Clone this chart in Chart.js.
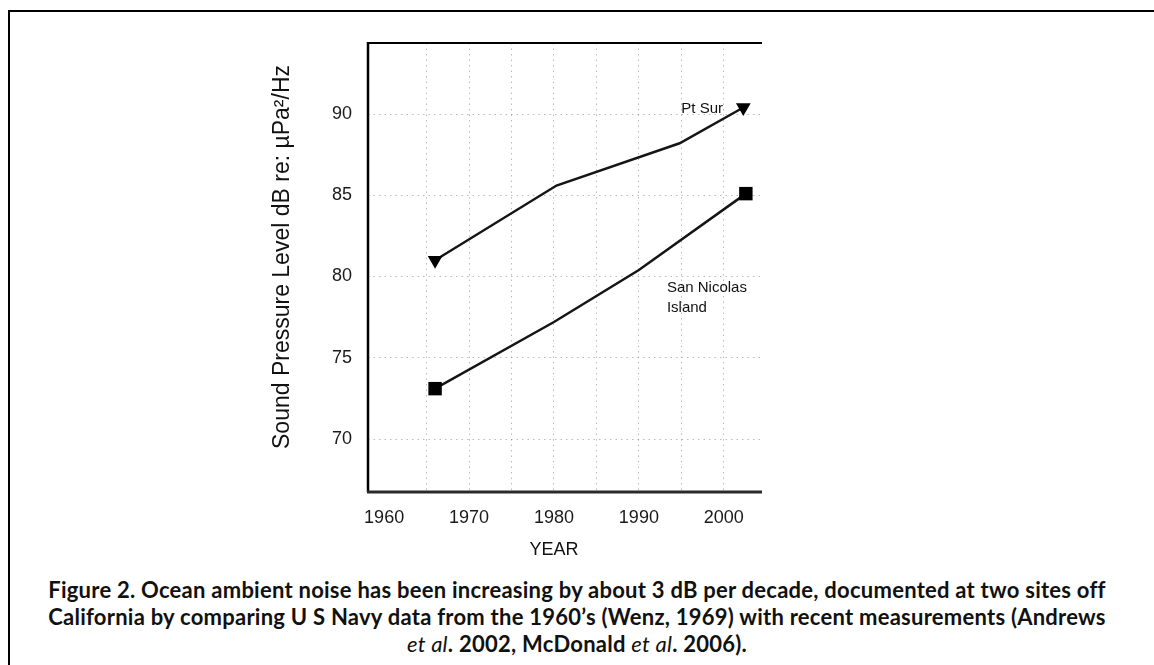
<!DOCTYPE html>
<html>
<head>
<meta charset="utf-8">
<script src="https://cdn.jsdelivr.net/npm/chart.js@4.4.1/dist/chart.umd.min.js"></script>
<style>
  html, body { margin: 0; padding: 0; background: #fff; width: 1154px; height: 665px; overflow: hidden; }
  #frame { position: absolute; left: 8px; top: 10px; width: 1200px; height: 700px; border-top: 2px solid #000; border-left: 2px solid #000; }
  #wrap { position: absolute; left: 0; top: 0; width: 1154px; height: 565px; }
  #caption { position: absolute; left: 0; top: 576px; width: 1154px; text-align: center;
    font-family: Lato, "Open Sans", sans-serif; font-weight: bold; font-size: 22px; letter-spacing: 0.25px;
    line-height: 27px; color: #111; }
  #caption i { font-weight: normal; }
</style>
</head>
<body>
<div id="frame"></div>
<div id="wrap"><canvas id="chart" width="1154" height="565"></canvas></div>
<div id="caption">Figure 2. Ocean ambient noise has been increasing by about 3 dB per decade, documented at two sites off<br>California by comparing U S Navy data from the 1960’s (Wenz, 1969) with recent measurements (Andrews<br><i>et al</i>. 2002, McDonald <i>et al</i>. 2006).</div>
<script>
const ctx = document.getElementById('chart').getContext('2d');

// data
const ptSurYears = [1966, 1980.3, 1994.8, 2002.3];
const ptSurLevels = [81.0, 85.6, 88.2, 90.4];
const sanNicYears = [1966, 1980, 1990, 2002.6];
const sanNicLevels = [73.1, 77.2, 80.4, 85.1];

// axes
const xGridYears = [1960, 1965, 1970, 1975, 1980, 1985, 1990, 1995, 2000];
const xLabelYears = [1960, 1970, 1980, 1990, 2000];
const yTicks = [70, 75, 80, 85, 90];
const xTitle = 'YEAR';
const yTitle = 'Sound Pressure Level dB re: µPa²/Hz';

// text labels inside the plot
const notes = [
  { text: 'Pt Sur', x: 1995.0, y: 90.06 },
  { text: 'San Nicolas', x: 1993.3, y: 79.05 },
  { text: 'Island', x: 1993.3, y: 77.8 }
];

const gridColor = 'rgba(120,120,120,0.5)';
const font = '"Liberation Sans", Arial, sans-serif';
const tickFont = { family: '"Liberation Sans", Arial, sans-serif', size: 18 };

const toPoints = (xs, ys) => xs.map((x, i) => ({ x, y: ys[i] }));
const endRadius = (n, r) => Array.from({ length: n }, (_, i) => (i === 0 || i === n - 1) ? r : 0);

const framePlugin = {
  id: 'frame',
  beforeDatasetsDraw(chart) {
    const { ctx, chartArea: a } = chart;
    ctx.save();
    ctx.strokeStyle = '#000';
    ctx.lineWidth = 2;
    ctx.beginPath(); ctx.moveTo(a.left, a.top); ctx.lineTo(a.right, a.top); ctx.stroke();
    ctx.lineWidth = 2.5;
    ctx.beginPath(); ctx.moveTo(a.left, a.top - 1); ctx.lineTo(a.left, a.bottom); ctx.stroke();
    ctx.strokeStyle = '#2a2a2a';
    ctx.lineWidth = 3;
    ctx.beginPath(); ctx.moveTo(a.left - 1, a.bottom); ctx.lineTo(a.right, a.bottom); ctx.stroke();
    ctx.restore();
  },
  afterDraw(chart) {
    const { ctx, scales: { x, y } } = chart;
    ctx.save();
    ctx.fillStyle = '#111';
    ctx.font = '15px ' + font;
    ctx.textAlign = 'left';
    ctx.textBaseline = 'alphabetic';
    notes.forEach(n => ctx.fillText(n.text, x.getPixelForValue(n.x), y.getPixelForValue(n.y)));
    ctx.font = '18px ' + font;
    ctx.textAlign = 'center';
    ctx.fillText(xTitle, x.getPixelForValue(1980), 555);
    ctx.translate(283, 257);
    ctx.rotate(-Math.PI / 2);
    ctx.textBaseline = 'middle';
    ctx.font = '23px ' + font;
    ctx.fillText(yTitle, 0, 0);
    ctx.restore();
  }
};

const chart = new Chart(ctx, {
  type: 'line',
  data: {
    datasets: [
      {
        label: 'Pt Sur',
        data: toPoints(ptSurYears, ptSurLevels),
        borderColor: '#151515',
        backgroundColor: '#000',
        borderWidth: 2.5,
        tension: 0,
        pointStyle: 'triangle',
        pointRotation: 180,
        pointRadius: endRadius(ptSurYears.length, 8.5),
        pointBorderWidth: 0
      },
      {
        label: 'San Nicolas Island',
        data: toPoints(sanNicYears, sanNicLevels),
        borderColor: '#151515',
        backgroundColor: '#000',
        borderWidth: 2.5,
        tension: 0,
        pointStyle: 'rect',
        pointRadius: endRadius(sanNicYears.length, 9.5),
        pointBorderWidth: 0
      }
    ]
  },
  options: {
    responsive: false,
    animation: false,
    layout: { padding: { left: 0, top: 43, right: 392, bottom: 0 } },
    plugins: { legend: { display: false }, tooltip: { enabled: false } },
    scales: {
      x: {
        type: 'linear',
        min: 1958.1,
        max: 2004.5,
        afterBuildTicks: s => { s.ticks = xGridYears.map(v => ({ value: v })); },
        afterFit: s => { s.height = 73; },
        ticks: {
          autoSkip: false,
          maxRotation: 0,
          padding: 15,
          color: '#1a1a1a',
          font: tickFont,
          callback: v => xLabelYears.includes(v) ? String(v) : ''
        },
        grid: {
          drawTicks: false,
          color: c => (c.tick && c.tick.value === 1960) ? 'rgba(0,0,0,0)' : gridColor,
          lineWidth: 1
        },
        border: { display: false, dash: [1.5, 4] }
      },
      y: {
        type: 'linear',
        min: 66.74,
        max: 94.37,
        afterBuildTicks: s => { s.ticks = yTicks.map(v => ({ value: v })); },
        afterFit: s => { s.width = 368; },
        ticks: {
          padding: 16,
          color: '#1a1a1a',
          font: tickFont
        },
        grid: { drawTicks: false, color: gridColor, lineWidth: 1 },
        border: { display: false, dash: [1.5, 4] }
      }
    }
  },
  plugins: [framePlugin]
});
</script>
</body>
</html>
